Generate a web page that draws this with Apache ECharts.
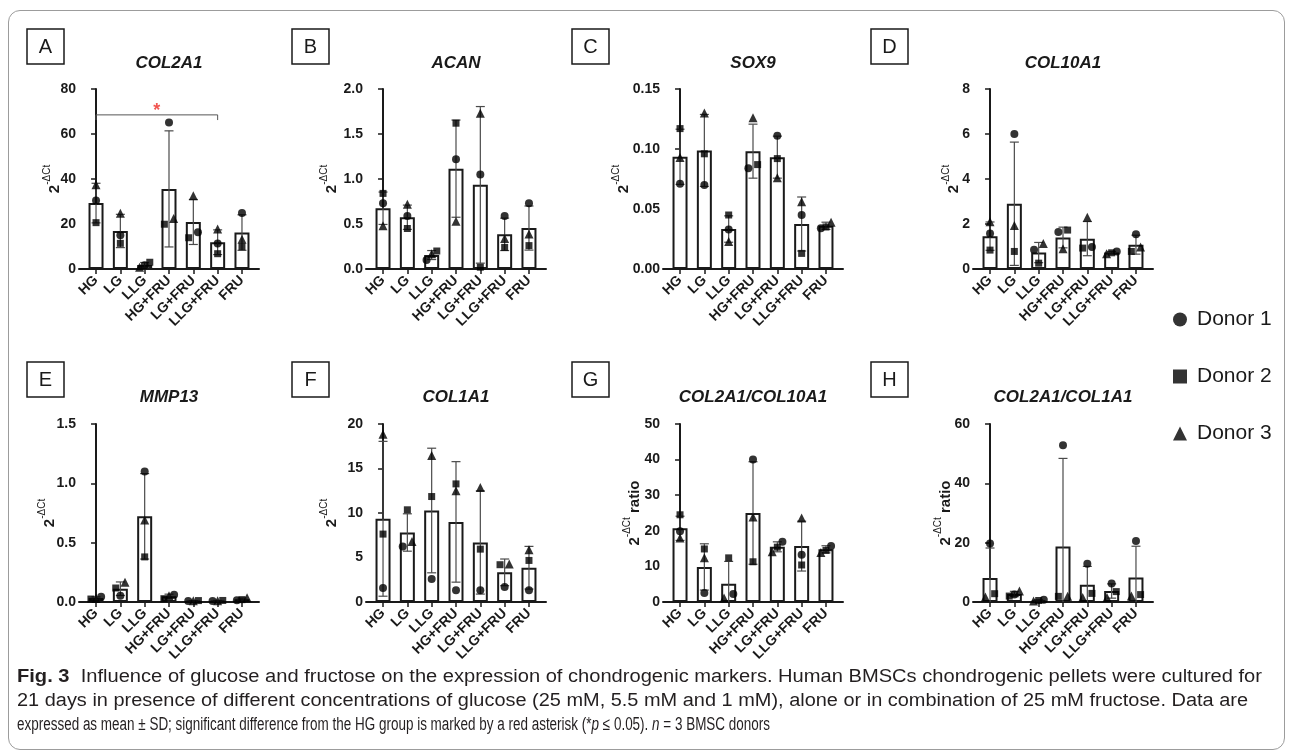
<!DOCTYPE html>
<html><head><meta charset="utf-8">
<script src="https://cdn.jsdelivr.net/npm/echarts@6/dist/echarts.min.js"></script>
<style>
html,body{margin:0;padding:0;background:#fff;width:1293px;height:753px;overflow:hidden;}
#frame{position:absolute;left:8px;top:10px;width:1277px;height:740px;border:1px solid #9c9c9c;border-radius:12px;box-sizing:border-box;}
#chart{position:absolute;left:0;top:0;width:1293px;height:753px;}
#caption{position:absolute;left:17px;top:664px;font-family:'Liberation Sans Narrow','Liberation Sans',Arial,sans-serif;font-size:18px;line-height:24px;color:#231f20;z-index:5;}
.ln{white-space:nowrap;transform-origin:0 50%;display:block;width:max-content;}
</style></head><body>
<div id="frame"></div>
<div id="chart"></div>
<div id="caption">
<span class="ln" data-w="1245"><b>Fig. 3</b>&nbsp; Influence of glucose and fructose on the expression of chondrogenic markers. Human BMSCs chondrogenic pellets were cultured for</span>
<span class="ln" data-w="1231">21 days in presence of different concentrations of glucose (25 mM, 5.5 mM and 1 mM), alone or in combination of 25 mM fructose. Data are</span>
<span class="ln" data-w="753">expressed as mean ± SD; significant difference from the HG group is marked by a red asterisk (*<i>p</i> ≤ 0.05). <i>n</i> = 3 BMSC donors</span>
</div>
<script>
// ---------- DATA ----------
const categories = ['HG','LG','LLG','HG+FRU','LG+FRU','LLG+FRU','FRU'];
const donorNames = ['Donor 1','Donor 2','Donor 3'];

// A: COL2A1
const col2a1D1 = [30.4, 15.0, 1.7, 65.1, 16.3, 11.3, 24.9];
const col2a1D2 = [20.6, 11.4, 3.0, 19.9, 13.9, 6.8, 9.9];
const col2a1D3 = [37.4, 24.8, 0.8, 22.5, 32.6, 17.8, 13.2];
const col2a1Mean = [29.3, 16.9, 1.8, 35.6, 20.9, 11.9, 16.2];
const col2a1SD = [8.8, 7.4, 1.1, 25.8, 10.0, 5.5, 7.9];
const col2a1Ticks = [0, 20, 40, 60, 80];

// B: ACAN
const acanD1 = [0.73, 0.59, 0.10, 1.22, 1.05, 0.59, 0.73];
const acanD2 = [0.84, 0.45, 0.20, 1.62, 0.02, 0.24, 0.26];
const acanD3 = [0.48, 0.72, 0.17, 0.53, 1.73, 0.34, 0.39];
const acanMean = [0.675, 0.575, 0.155, 1.115, 0.935, 0.385, 0.455];
const acanSD = [0.18, 0.135, 0.05, 0.54, 0.87, 0.18, 0.245];
const acanTicks = [0.0, 0.5, 1.0, 1.5, 2.0];

// C: SOX9
const sox9D1 = [0.071, 0.070, 0.033, 0.084, 0.111, 0.045, 0.034];
const sox9D2 = [0.117, 0.096, 0.045, 0.087, 0.092, 0.013, 0.035];
const sox9D3 = [0.093, 0.130, 0.023, 0.126, 0.076, 0.056, 0.039];
const sox9Mean = [0.0935, 0.0988, 0.0333, 0.0982, 0.0932, 0.0375, 0.036];
const sox9SD = [0.023, 0.030, 0.011, 0.0225, 0.0175, 0.0225, 0.003];
const sox9Ticks = [0.00, 0.05, 0.10, 0.15];

// D: COL10A1
const col10a1D1 = [1.58, 6.0, 0.86, 1.65, 0.98, 0.78, 1.55];
const col10a1D2 = [0.84, 0.78, 0.26, 1.73, 0.93, 0.72, 0.78];
const col10a1D3 = [2.1, 1.93, 1.13, 0.90, 2.3, 0.68, 0.98];
const col10a1Mean = [1.46, 2.9, 0.73, 1.40, 1.35, 0.73, 1.08];
const col10a1SD = [0.63, 2.74, 0.45, 0.46, 0.76, 0.05, 0.42];
const col10a1Ticks = [0, 2, 4, 6, 8];

// E: MMP13
const mmp13D1 = [0.045, 0.053, 1.10, 0.062, 0.008, 0.008, 0.015];
const mmp13D2 = [0.025, 0.118, 0.38, 0.028, 0.012, 0.013, 0.020];
const mmp13D3 = [0.030, 0.166, 0.69, 0.053, 0.010, 0.010, 0.035];
const mmp13Mean = [0.033, 0.112, 0.722, 0.048, 0.010, 0.010, 0.023];
const mmp13SD = [0.010, 0.057, 0.36, 0.018, 0.002, 0.003, 0.010];
const mmp13Ticks = [0.0, 0.5, 1.0, 1.5];

// F: COL1A1
const col1a1D1 = [1.57, 6.24, 2.58, 1.31, 1.31, 1.68, 1.31];
const col1a1D2 = [7.63, 10.36, 11.85, 13.27, 5.94, 4.19, 4.67];
const col1a1D3 = [18.84, 6.80, 16.45, 12.50, 12.86, 4.26, 5.87];
const col1a1Mean = [9.35, 7.81, 10.28, 9.0, 6.69, 3.33, 3.85];
const col1a1SD = [8.7, 2.1, 7.0, 6.77, 5.8, 1.5, 2.4];
const col1a1Ticks = [0, 5, 10, 15, 20];

// G: COL2A1/COL10A1
const r10D1 = [19.9, 2.5, 2.25, 40.0, 16.9, 13.3, 15.7];
const r10D2 = [24.5, 14.9, 12.4, 11.3, 15.4, 10.4, 14.5];
const r10D3 = [18.0, 12.45, 1.1, 23.9, 14.1, 23.6, 13.9];
const r10Mean = [20.7, 9.85, 5.1, 25.0, 15.5, 15.7, 14.8];
const r10SD = [3.4, 6.5, 6.3, 14.4, 1.4, 7.0, 1.0];
const r10Ticks = [0, 10, 20, 30, 40, 50];

// H: COL2A1/COL1A1
const r1D1 = [19.7, 2.5, 0.8, 52.8, 12.9, 6.2, 20.6];
const r1D2 = [2.8, 2.0, 0.5, 1.9, 2.9, 3.5, 2.5];
const r1D3 = [1.7, 3.7, 0.3, 1.9, 1.5, 1.5, 2.0];
const r1Mean = [8.1, 2.7, 0.5, 18.7, 5.8, 3.7, 8.3];
const r1SD = [10.1, 0.9, 0.25, 29.7, 6.2, 2.4, 10.5];
const r1Ticks = [0, 20, 40, 60];

// significance (panel A)
const sigFrom = 'HG', sigTo = 'LLG+FRU', sigLevel = 68.5, sigMark = '*';

const panels = [
  {letter:'A', title:'COL2A1', d:[col2a1D1,col2a1D2,col2a1D3], mean:col2a1Mean, sd:col2a1SD, ticks:col2a1Ticks, dec:0, ratio:false},
  {letter:'B', title:'ACAN', d:[acanD1,acanD2,acanD3], mean:acanMean, sd:acanSD, ticks:acanTicks, dec:1, ratio:false},
  {letter:'C', title:'SOX9', d:[sox9D1,sox9D2,sox9D3], mean:sox9Mean, sd:sox9SD, ticks:sox9Ticks, dec:2, ratio:false},
  {letter:'D', title:'COL10A1', d:[col10a1D1,col10a1D2,col10a1D3], mean:col10a1Mean, sd:col10a1SD, ticks:col10a1Ticks, dec:0, ratio:false},
  {letter:'E', title:'MMP13', d:[mmp13D1,mmp13D2,mmp13D3], mean:mmp13Mean, sd:mmp13SD, ticks:mmp13Ticks, dec:1, ratio:false},
  {letter:'F', title:'COL1A1', d:[col1a1D1,col1a1D2,col1a1D3], mean:col1a1Mean, sd:col1a1SD, ticks:col1a1Ticks, dec:0, ratio:false},
  {letter:'G', title:'COL2A1/COL10A1', d:[r10D1,r10D2,r10D3], mean:r10Mean, sd:r10SD, ticks:r10Ticks, dec:0, ratio:true},
  {letter:'H', title:'COL2A1/COL1A1', d:[r1D1,r1D2,r1D3], mean:r1Mean, sd:r1SD, ticks:r1Ticks, dec:0, ratio:true}
];

// ---------- LAYOUT ----------
const colX = [79, 366, 663, 973];
const rowY = [89, 424];
const rowH = [180, 178];
const plotW = 180;
const nameOffset = [26, 36, 41, 21, 31, 36, 30, 29];
const boxX = [27, 292, 572, 871];
const boxY = [29, 362];
const titleY = [63, 397];
const ink = '#1a1a1a';
const FF = '"Liberation Sans", Arial, sans-serif';
const symbols = ['circle','rect','triangle'];
const symSizes = [8, 7, 9];

function jitterOffsets(vals, pxPerUnit){
  const idx=[0,1,2].sort((a,b)=>vals[a]-vals[b]);
  const off=[0,0,0];
  const clusters=[]; let cur=[idx[0]];
  for(let k=1;k<idx.length;k++){
    if((vals[idx[k]]-vals[idx[k-1]])*pxPerUnit < 6.5) cur.push(idx[k]);
    else { clusters.push(cur); cur=[idx[k]]; }
  }
  clusters.push(cur);
  clusters.forEach(c=>{
    const n=c.length; const step = n===2?0.38:0.21;
    c.forEach((i,j)=>{ off[i] = n>1 ? (j-(n-1)/2)*step : 0; });
  });
  return off;
}

const grids=[], xAxes=[], yAxes=[], series=[], graphics=[];
const catIdx = categories.map((c,k)=>k);

panels.forEach((p,i)=>{
  const r = Math.floor(i/4), c = i%4;
  const ymax = p.ticks[p.ticks.length-1];
  const step = p.ticks[1]-p.ticks[0];
  grids.push({left:colX[c], top:rowY[r], width:plotW, height:rowH[r], outerBoundsMode:'none'});
  xAxes.push({gridIndex:i, type:'value', min:-0.7, max:6.7,
    axisLine:{show:true, onZero:false, lineStyle:{color:ink, width:2}},
    axisTick:{show:true, customValues:catIdx, length:5, lineStyle:{color:ink, width:1.5}},
    axisLabel:{show:true, customValues:catIdx, formatter:v=>categories[Math.round(v)], rotate:45, margin:9,
      color:ink, fontWeight:'bold', fontSize:14, fontFamily:FF},
    splitLine:{show:false}});
  const nm = p.ratio ? '{b|2}{s|-ΔCt}{b| ratio}' : '{b|2}{s|-ΔCt}';
  yAxes.push({gridIndex:i, type:'value', min:0, max:ymax, interval:step,
    axisLine:{show:true, lineStyle:{color:ink, width:2}},
    axisTick:{show:true, length:5, lineStyle:{color:ink, width:1.5}},
    axisLabel:{color:ink, fontWeight:'bold', fontSize:14, fontFamily:FF, margin:3, formatter:v=>v.toFixed(p.dec)},
    splitLine:{show:false},
    name:nm, nameLocation:'middle', nameGap:nameOffset[i]-9, nameMoveOverlap:false,
    nameTextStyle:{rich:{
      b:{fontSize:15, fontWeight:'bold', fontFamily:FF, color:ink, lineHeight:20, verticalAlign:'bottom'},
      s:{fontSize:10, fontFamily:FF, color:ink, lineHeight:20, verticalAlign:'top'}
    }}});
  // bars
  series.push({type:'bar', xAxisIndex:i, yAxisIndex:i, barWidth:15, silent:true, z:2,
    itemStyle:{color:'#fff', borderColor:ink, borderWidth:2},
    data:p.mean.map((m,k)=>[k,m])});
  // error bars
  series.push({type:'custom', xAxisIndex:i, yAxisIndex:i, z:3, silent:true, clip:false,
    data:p.mean.map((m,k)=>[k,m,p.sd[k]]),
    renderItem:(params, api)=>{
      const x=api.value(0), m=api.value(1), s=api.value(2);
      const top=api.coord([x,m+s]);
      const lowV = m-s; const bot=api.coord([x,Math.max(lowV,0)]);
      const cw=4.5, st={stroke:'#4a4a4a', lineWidth:1.2};
      const ch=[{type:'line', shape:{x1:top[0],y1:top[1],x2:bot[0],y2:bot[1]}, style:st},
                {type:'line', shape:{x1:top[0]-cw,y1:top[1],x2:top[0]+cw,y2:top[1]}, style:st}];
      if(lowV>0) ch.push({type:'line', shape:{x1:bot[0]-cw,y1:bot[1],x2:bot[0]+cw,y2:bot[1]}, style:st});
      return {type:'group', children:ch};
    }});
  // scatter points
  const pxPerUnit = rowH[r]/ymax;
  const offs = categories.map((cname,k)=>jitterOffsets([p.d[0][k],p.d[1][k],p.d[2][k]], pxPerUnit));
  p.d.forEach((arr,j)=>{
    series.push({type:'scatter', name:donorNames[j], xAxisIndex:i, yAxisIndex:i, z:4, silent:true,
      symbol:symbols[j], symbolSize:symSizes[j], itemStyle:{color:'#000'},
      data:arr.map((v,k)=>[k+offs[k][j], v])});
  });
  // title + letter box
  graphics.push({type:'text', x:colX[c]+plotW/2, y:titleY[r], silent:true,
    style:{text:p.title, fontSize:17, fontWeight:'bold', fontStyle:'italic', fontFamily:FF, fill:ink, align:'center', verticalAlign:'middle'}});
  graphics.push({type:'rect', shape:{x:boxX[c], y:boxY[r], width:37, height:35}, silent:true,
    style:{fill:'none', stroke:ink, lineWidth:1.5}});
  graphics.push({type:'text', x:boxX[c]+18.5, y:boxY[r]+18, silent:true,
    style:{text:p.letter, fontSize:20, fontFamily:FF, fill:ink, align:'center', verticalAlign:'middle'}});
});

// significance bracket on panel A
const fi = categories.indexOf(sigFrom), ti = categories.indexOf(sigTo);
series.push({type:'line', xAxisIndex:0, yAxisIndex:0, z:5, silent:true, symbol:'none',
  lineStyle:{color:'#555', width:1},
  data:[[fi, sigLevel-2.3],[fi, sigLevel],[ti, sigLevel],[ti, sigLevel-2.3]]});
series.push({type:'scatter', xAxisIndex:0, yAxisIndex:0, z:5, silent:true, symbolSize:1, itemStyle:{color:'rgba(0,0,0,0)'},
  label:{show:true, formatter:sigMark, position:'top', distance:-6, color:'#ee2a24', fontSize:18, fontWeight:'bold', fontFamily:FF},
  data:[[(fi+ti)/2, sigLevel]]});

const chart = echarts.init(document.getElementById('chart'), null, {renderer:'canvas'});
chart.setOption({
  animation:false,
  grid:grids, xAxis:xAxes, yAxis:yAxes, series:series, graphic:graphics,
  legend:{orient:'vertical', left:1168, top:304, itemWidth:14, itemHeight:14, itemGap:36, selectedMode:false,
    data:[{name:'Donor 1', icon:'circle'},{name:'Donor 2', icon:'rect'},{name:'Donor 3', icon:'triangle'}],
    textStyle:{fontSize:21, fontFamily:FF, color:ink, lineHeight:21, padding:[0,0,0,5]}}
});

// fit caption lines to their widths
document.querySelectorAll('.ln').forEach(el=>{
  const w = el.getBoundingClientRect().width;
  const target = +el.dataset.w;
  el.style.transform = 'scaleX(' + (target/w) + ')';
});
</script>
</body></html>
